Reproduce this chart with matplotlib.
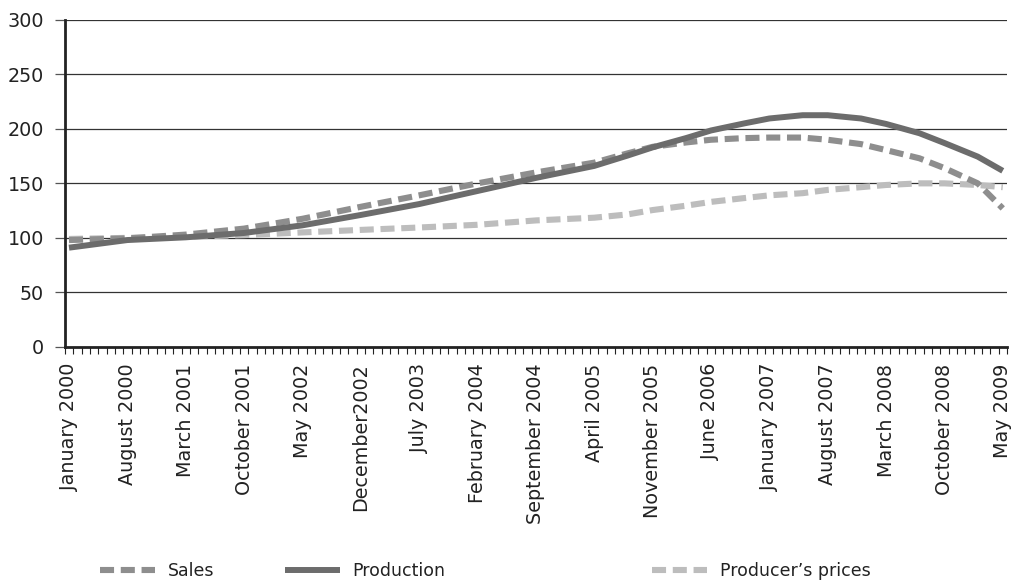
import numpy as np
import matplotlib.pyplot as plt

plt.rcParams['font.family'] = ['DejaVu Sans']

# monthly axis Jan 2000 .. May 2009, labelled every 7 months
n_months = 113
labels = ["January 2000", "August 2000", "March 2001", "October 2001", "May 2002",
          "December2002", "July 2003", "February 2004", "September 2004", "April 2005",
          "November 2005", "June 2006", "January 2007", "August 2007", "March 2008",
          "October 2008", "May 2009"]
label_pos = np.arange(0, n_months, 7)

# month index (0 = January 2000) of each reading
months = [0, 7, 14, 21, 28, 35, 42, 49, 56, 63, 67, 70, 74, 77, 81, 84, 88, 91,
          95, 98, 102, 105, 109, 112]
sales = [98, 99.5, 103, 108.5, 117.5, 128.5, 139, 150, 160, 169, 177.5, 183.5,
         187.5, 190, 191.5, 192, 192, 190, 186, 180.5, 173, 164, 150, 127]
production = [91, 98, 100.5, 104.5, 111.5, 121, 131, 143, 155, 166, 175.5, 183,
              191.5, 198.5, 205, 209.5, 212.5, 212.5, 209.5, 204.5, 196, 187, 174.5, 161.5]
prices = [99, 100, 101, 102.5, 105, 107.3, 109.5, 112, 116, 118.5, 121.5, 125.5,
          129.5, 133, 136.5, 139, 141, 144, 146.5, 148.5, 150, 150, 148.5, 146.5]

fig = plt.figure(figsize=(10.13, 5.83), dpi=100)
ax = fig.add_axes([0.064, 0.405, 0.93, 0.561])

for y in range(50, 301, 50):
    ax.axhline(y, color='#333333', lw=0.9, zorder=1)

dash = (0, (2.3, 1.1))
l_prices, = ax.plot(months, prices, color='#bdbdbd', lw=4.4, linestyle=dash, zorder=3)
l_sales, = ax.plot(months, sales, color='#8e8e8e', lw=4.4, linestyle=dash, zorder=4)
l_prod, = ax.plot(months, production, color='#6c6c6c', lw=4.3, zorder=5,
                  solid_capstyle='butt', solid_joinstyle='round')

ax.set_xlim(-0.5, n_months - 0.5)
ax.set_ylim(0, 300)
ax.set_yticks(range(0, 301, 50))
ax.set_xticks(label_pos)
ax.set_xticklabels(labels, rotation=90, fontsize=13.8, color='#222222')
ax.set_xticks(np.arange(-0.5, n_months, 1), minor=True)
ax.tick_params(axis='x', which='major', length=0, pad=12)
ax.tick_params(axis='x', which='minor', length=5, width=0.8, color='#222222', direction='out')
ax.tick_params(axis='y', length=7, width=0.9, color='#555555', labelsize=13.8,
               labelcolor='#222222', pad=8)

for s in ['top', 'right']:
    ax.spines[s].set_visible(False)
for s in ['left', 'bottom']:
    ax.spines[s].set_linewidth(2)
    ax.spines[s].set_color('#222222')

# three separate legend entries spread along the bottom
entries = [(l_sales, "Sales", 0.0918), (l_prod, "Production", 0.2744),
           (l_prices, "Producer\u2019s prices", 0.6367)]
for h, txt, x in entries:
    leg = fig.legend([h], [txt], loc='center left', bbox_to_anchor=(x, 0.021), frameon=False,
                     fontsize=12.5, handlelength=3.2, handletextpad=0.7, borderaxespad=0)
    for t in leg.get_texts():
        t.set_color('#222222')

fig.savefig('out.png', dpi=100)
